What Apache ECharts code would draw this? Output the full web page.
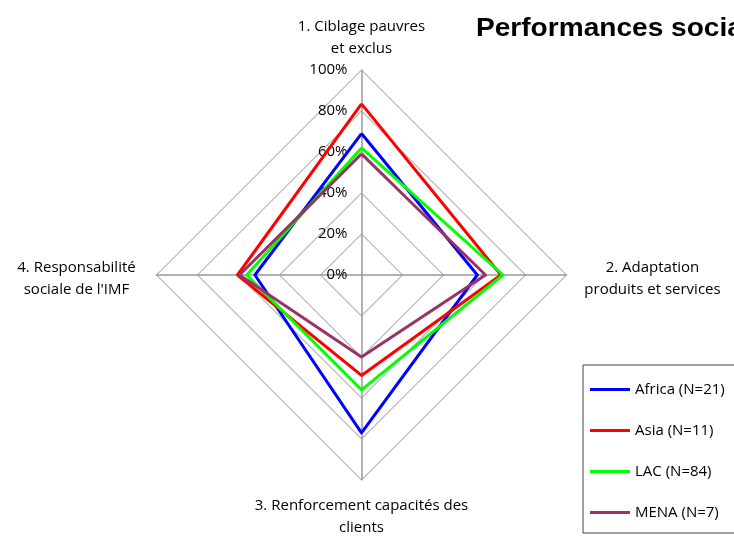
<!DOCTYPE html>
<html>
<head>
<meta charset="utf-8">
<script src="https://cdn.jsdelivr.net/npm/echarts@6/dist/echarts.min.js"></script>
<style>
  html, body { margin: 0; padding: 0; background: #fff; }
  #chart { width: 734px; height: 536px; }
</style>
</head>
<body>
<div id="chart"></div>
<script>
// Dimensions of the social performance diagram (clockwise from the top)
const axisNames = [
  '1. Ciblage pauvres\net exclus',
  '2. Adaptation\nproduits et services',
  '3. Renforcement capacités des\nclients',
  "4. Responsabilité\nsociale de l'IMF"
];

// Scores per region, same order as axisNames
const regions = ['Africa (N=21)', 'Asia (N=11)', 'LAC (N=84)', 'MENA (N=7)'];
const africa = [0.69, 0.565, 0.77, 0.52];
const asia   = [0.835, 0.68, 0.49, 0.605];
const lac    = [0.62, 0.69, 0.56, 0.56];
const mena   = [0.59, 0.605, 0.40, 0.595];
const regionColors = ['#0000FF', '#FF0000', '#00FF00', '#993366'];

// Percentage scale of the radar
const scaleMin = 0;
const scaleMax = 1;
const tickLabels = ['0%', '20%', '40%', '60%', '80%', '100%'];

const FONT = '"Open Sans", Lato, sans-serif';
const CX = 361.5, CY = 275, R = 205;

// ECharts lays radar indicators out counter-clockwise from the top,
// so axes 1, 4, 3, 2 give the order 1 top, 2 right, 3 bottom, 4 left.
const order = [0, 3, 2, 1];
const seriesValues = [africa, asia, lac, mena];

const indicators = order.map(function (i, k) {
  const ind = { name: axisNames[i], min: scaleMin, max: scaleMax };
  if (k === 0) {
    ind.axisLabel = {
      show: true,
      margin: 14,
      fontSize: 15,
      fontFamily: FONT,
      color: '#000',
      formatter: function (v) {
        const idx = Math.round((v - scaleMin) / (scaleMax - scaleMin) * (tickLabels.length - 1));
        return tickLabels[idx];
      }
    };
  }
  return ind;
});

const chart = echarts.init(document.getElementById('chart'), null, { renderer: 'canvas' });

// Axis titles placed around the tips of the radar
const nameSpots = [
  { x: CX, y: CY - R - 32 },
  { x: CX + R + 86, y: CY + 3.5 },
  { x: CX, y: CY + R + 37 },
  { x: CX - R - 80, y: CY + 3.5 }
];

const graphics = axisNames.map(function (txt, i) {
  return {
    type: 'text',
    x: nameSpots[i].x,
    y: nameSpots[i].y,
    style: {
      text: txt,
      align: 'center',
      verticalAlign: 'middle',
      fontFamily: FONT,
      fontSize: 15,
      lineHeight: 22,
      fill: '#000'
    }
  };
});

// Chart title, running past the right edge
graphics.push({
  type: 'text',
  x: 476,
  y: 28.5,
  scaleX: 1.08,
  style: {
    text: 'Performances sociales',
    align: 'left',
    verticalAlign: 'middle',
    fontFamily: '"Liberation Sans", Arial, sans-serif',
    fontWeight: 'bold',
    fontSize: 26,
    fill: '#000'
  }
});

chart.setOption({
  animation: false,
  backgroundColor: '#fff',
  legend: {
    orient: 'vertical',
    left: 583,
    top: 365,
    icon: 'rect',
    itemWidth: 40,
    itemHeight: 3,
    itemGap: 26,
    padding: [17, 40, 13, 7],
    borderColor: '#444',
    borderWidth: 1,
    data: regions,
    textStyle: { fontFamily: FONT, fontSize: 15, color: '#000' }
  },
  radar: {
    center: [CX, CY],
    radius: R,
    startAngle: 90,
    shape: 'polygon',
    splitNumber: 5,
    indicator: indicators,
    axisName: { show: false },
    axisLabel: { show: false },
    axisLine: { lineStyle: { color: '#999', width: 1.5 } },
    axisTick: { show: false },
    splitLine: { lineStyle: { color: '#8c8c8c', width: 1 } },
    splitArea: { show: false }
  },
  series: [{
    type: 'radar',
    symbol: 'none',
    data: regions.map(function (name, j) {
      return {
        name: name,
        value: order.map(function (i) { return seriesValues[j][i]; }),
        lineStyle: { color: regionColors[j], width: 3 },
        itemStyle: { color: regionColors[j] },
        z: 10 - j
      };
    })
  }],
  graphic: graphics
});
</script>
</body>
</html>
